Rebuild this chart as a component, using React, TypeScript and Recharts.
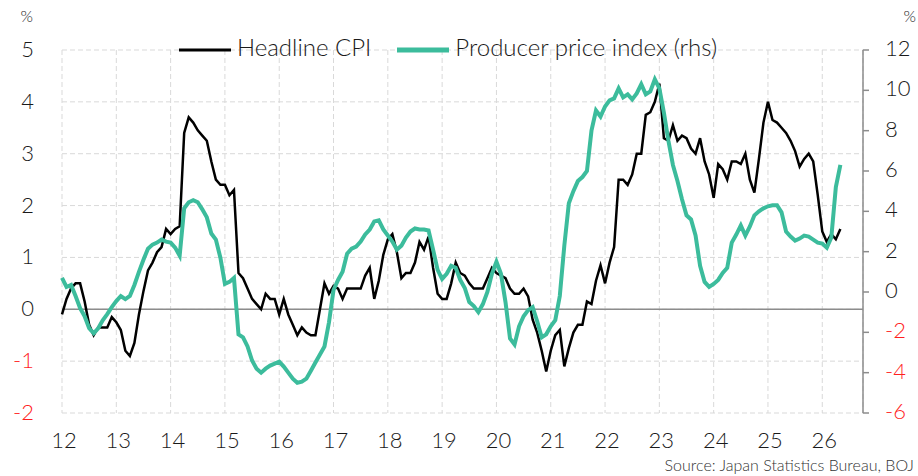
import React from 'react'
import { LineChart, Line, XAxis, YAxis, CartesianGrid, ReferenceLine, Legend } from 'recharts'

// months since Jan 2012, year gridlines every 12 months
const yearTicks = [0, 12, 24, 36, 48, 60, 72, 84, 96, 108, 120, 132, 144, 156, 168]
const yearLabels = ['12', '13', '14', '15', '16', '17', '18', '19', '20', '21', '22', '23', '24', '25', '26']
const leftTicks = [-2, -1, 0, 1, 2, 3, 4, 5]
const rightTicks = [-6, -4, -2, 0, 2, 4, 6, 8, 10, 12]

// Headline CPI, % YoY (lhs), Jan 2012 - May 2026
const cpi = [
  -0.1, 0.2, 0.4, 0.5, 0.5, 0.15, -0.3, -0.5, -0.35, -0.35, -0.35, -0.15,
  -0.25, -0.4, -0.8, -0.9, -0.65, -0.1, 0.35, 0.75, 0.9, 1.1, 1.2, 1.55,
  1.45, 1.55, 1.6, 3.4, 3.7, 3.6, 3.45, 3.35, 3.25, 2.85, 2.5, 2.4,
  2.4, 2.2, 2.3, 0.7, 0.6, 0.4, 0.2, 0.1, 0.0, 0.3, 0.2, 0.2,
  -0.1, 0.2, -0.1, -0.3, -0.5, -0.35, -0.45, -0.5, -0.5, 0.0, 0.5, 0.3,
  0.45, 0.4, 0.2, 0.4, 0.4, 0.4, 0.4, 0.65, 0.8, 0.2, 0.55, 1.05,
  1.35, 1.45, 1.1, 0.6, 0.7, 0.7, 0.9, 1.3, 1.15, 1.4, 0.8, 0.3,
  0.2, 0.2, 0.5, 0.9, 0.7, 0.65, 0.5, 0.4, 0.4, 0.4, 0.6, 0.8,
  0.7, 0.65, 0.6, 0.4, 0.3, 0.3, 0.4, 0.25, -0.2, -0.45, -0.8, -1.2,
  -0.8, -0.5, -0.4, -1.1, -0.75, -0.45, -0.3, -0.3, 0.15, 0.1, 0.55, 0.85,
  0.5, 0.9, 1.2, 2.5, 2.5, 2.4, 2.6, 3.0, 3.0, 3.75, 3.8, 4.0,
  4.35, 3.3, 3.25, 3.55, 3.25, 3.35, 3.3, 3.1, 3.0, 3.3, 2.85, 2.6,
  2.15, 2.8, 2.7, 2.5, 2.85, 2.85, 2.8, 3.0, 2.5, 2.25, 2.9, 3.6,
  4.0, 3.65, 3.6, 3.5, 3.4, 3.25, 3.05, 2.75, 2.9, 3.0, 2.85, 2.2,
  1.5, 1.3, 1.45, 1.35, 1.55,
]

// Producer price index, % YoY (rhs)
const ppi = [
  0.7, 0.25, 0.35, -0.2, -0.8, -1.2, -1.8, -2.05, -1.8, -1.4, -1.1, -0.75,
  -0.45, -0.2, -0.35, -0.2, 0.35, 1.0, 1.6, 2.15, 2.35, 2.45, 2.6, 2.5,
  2.45, 2.2, 1.8, 4.15, 4.45, 4.55, 4.45, 4.1, 3.7, 2.9, 2.6, 1.7,
  0.4, 0.5, 0.7, -2.1, -2.25, -2.7, -3.4, -3.8, -4.0, -3.8, -3.65, -3.55,
  -3.45, -3.7, -4.0, -4.3, -4.5, -4.45, -4.3, -3.9, -3.5, -3.1, -2.7, -1.5,
  0.1, 0.6, 1.0, 1.9, 2.15, 2.25, 2.5, 2.85, 3.1, 3.5, 3.55, 3.1,
  2.8, 2.5, 2.1, 2.3, 2.7, 3.0, 3.15, 3.1, 3.1, 3.05, 2.1, 1.1,
  0.65, 0.9, 1.3, 1.2, 0.6, 0.2, -0.5, -0.7, -1.0, -0.6, 0.0, 0.9,
  1.5, 0.9, -0.5, -2.3, -2.6, -1.7, -1.2, -0.9, -0.75, -1.45, -2.25, -2.1,
  -1.7, -1.4, -0.2, 2.3, 4.4, 5.0, 5.5, 5.7, 6.0, 8.0, 9.0, 8.7,
  9.2, 9.5, 9.6, 10.1, 9.65, 9.8, 9.55, 9.85, 10.3, 9.8, 9.95, 10.55,
  10.1, 8.9, 7.5, 6.3, 5.5, 4.6, 3.8, 3.6, 2.8, 1.3, 0.5, 0.25,
  0.4, 0.6, 0.95, 1.2, 2.45, 2.85, 3.3, 2.8, 3.25, 3.8, 4.0, 4.15,
  4.25, 4.3, 4.3, 3.95, 3.0, 2.75, 2.55, 2.65, 2.8, 2.75, 2.6, 2.45,
  2.4, 2.2, 2.7, 5.2, 6.3,
]

const data = cpi.map((v, i) => ({ m: i, cpi: v, ppi: ppi[i] }))

const FONT = 'Lato, "DejaVu Sans", sans-serif'
const INK = '#1a1a1a'
const RED = '#ff1f1f'
const TEAL = '#3cbc9c'
const AXIS_GREY = '#8c8c8c'

const leftTick = (props: any) => {
  const { y, payload } = props
  return (
    <text x={34} y={y + 7} textAnchor="end" fontFamily={FONT} fontWeight={300} fontSize={22}
      fill={payload.value < 0 ? RED : INK}>
      {payload.value}
    </text>
  )
}

const rightTick = (props: any) => {
  const { y, payload } = props
  return (
    <text x={885} y={y + 6} textAnchor="start" fontFamily={FONT} fontWeight={300} fontSize={22}
      fill={payload.value < 0 ? RED : INK}>
      {payload.value}
    </text>
  )
}

const xTick = (props: any) => {
  const { x, payload } = props
  const idx = yearTicks.indexOf(payload.value)
  return (
    <text x={x + 2} y={448} textAnchor="middle" fontFamily={FONT} fontWeight={300} fontSize={22} fill={INK}>
      {yearLabels[idx]}
    </text>
  )
}

const renderLegend = (props: any) => {
  const { payload = [] } = props
  return (
    <div style={{ display: 'flex', fontFamily: FONT, fontWeight: 300, fontSize: 24, lineHeight: '30px', color: INK, whiteSpace: 'nowrap' }}>
      {payload.map((entry: any) => (
        <div key={entry.value} style={{ display: 'flex', marginRight: 26 }}>
          <svg width={52} height={30}>
            <line x1={0} x2={52} y1={18} y2={18} stroke={entry.color}
              strokeWidth={entry.dataKey === 'ppi' ? 5 : 3} />
          </svg>
          <span style={{ marginLeft: 6 }}>{entry.value}</span>
        </div>
      ))}
    </div>
  )
}

export default function App() {
  return (
    <div style={{ position: 'absolute', top: 0, left: 0, width: 918, height: 476, background: '#fff' }}>
      <LineChart width={918} height={476} data={data} margin={{ top: 50, right: 0, bottom: 0, left: 0 }}>
        <CartesianGrid yAxisId="left" stroke="#d9d9d9" strokeDasharray="5 3" />
        <XAxis dataKey="m" type="number" domain={[0, 177]} ticks={yearTicks} interval={0}
          height={63} axisLine={false} tickLine={false} tick={xTick} />
        <YAxis yAxisId="left" domain={[-2, 5]} ticks={leftTicks} interval={0} width={62}
          axisLine={false} tickLine={false} tick={leftTick} />
        <YAxis yAxisId="right" orientation="right" domain={[-6, 12]} ticks={rightTicks} interval={0}
          width={55} axisLine={{ stroke: AXIS_GREY, strokeWidth: 1.5 }} tickLine={{ stroke: AXIS_GREY, strokeWidth: 1.5 }}
          tickSize={6} tick={rightTick} />
        <ReferenceLine yAxisId="left" y={0} stroke={AXIS_GREY} strokeWidth={1.5} />
        <Legend layout="vertical" verticalAlign="middle" align="center" content={renderLegend}
          wrapperStyle={{ top: 32, left: 179, width: 620, height: 30 }} />
        <Line yAxisId="left" type="linear" dataKey="cpi" name="Headline CPI" stroke="#000"
          strokeWidth={2.5} dot={false} isAnimationActive={false} />
        <Line yAxisId="right" type="linear" dataKey="ppi" name="Producer price index (rhs)" stroke={TEAL}
          strokeWidth={4} dot={false} isAnimationActive={false} />
      </LineChart>
      <svg width={918} height={476} style={{ position: 'absolute', top: 0, left: 0, pointerEvents: 'none' }}>
        <text x={20.5} y={21.5} fontFamily={FONT} fontWeight={300} fontSize={16} fill={INK}>%</text>
        <text x={903.5} y={22} fontFamily={FONT} fontWeight={300} fontSize={16} fill={INK}>%</text>
        <text x={914} y={471} textAnchor="end" fontFamily={FONT} fontWeight={300} fontSize={16} fill="#333">
          Source: Japan Statistics Bureau, BOJ
        </text>
      </svg>
    </div>
  )
}
